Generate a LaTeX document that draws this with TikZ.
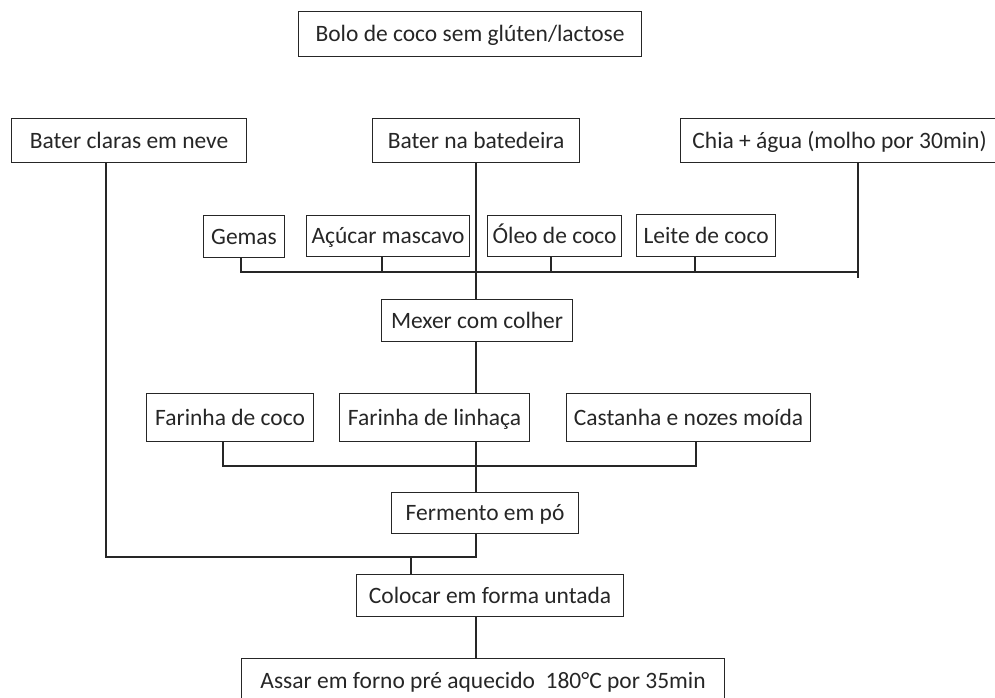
\documentclass[tikz,border=0pt]{standalone}
\usepackage{fontspec}
\setmainfont{Carlito}
\usepackage{tikz}

\begin{document}
\begin{tikzpicture}[x=0.025cm, y=-0.025cm, line width=0.8pt, color=black!85,
    every node/.style={draw, rectangle, anchor=north west, inner sep=0pt,
      text height=12pt, text depth=1.3pt, font=\fontsize{16.7}{20}\selectfont},
    caixa/.style 2 args={minimum width=#1*0.025cm, minimum height=#2*0.025cm}]
  \clip (0,0) rectangle (995,698);
  \node[caixa={343}{45}] (titulo) at (298,11) {Bolo de coco sem glúten/lactose};
  \node[caixa={235}{44}] (claras) at (11,118) {Bater claras em neve};
  \node[caixa={207}{44}] (batedeira) at (372,118) {Bater na batedeira};
  \node[caixa={318}{44}] (chia) at (680,118) {Chia + água (molho por 30min)};
  \node[caixa={81}{42}] (gemas) at (203,215) {Gemas};
  \node[caixa={163}{41}] (acucar) at (306,215) {Açúcar mascavo};
  \node[caixa={134}{41}] (oleo) at (487,215) {Óleo de coco};
  \node[caixa={139}{42}] (leite) at (636,214) {Leite de coco};
  \node[caixa={191}{42}] (mexer) at (381,299) {Mexer com colher};
  \node[caixa={167}{48}] (farcoco) at (146,393) {Farinha de coco};
  \node[caixa={190}{48}] (linhaca) at (339,393) {Farinha de linhaça};
  \node[caixa={244}{48}] (castanha) at (566,393) {Castanha e nozes moída};
  \node[caixa={187}{41}] (fermento) at (391,492) {Fermento em pó};
  \node[caixa={267}{42}] (colocar) at (356,574) {Colocar em forma untada};
  \node[caixa={483}{45}] (assar) at (241,658) {Assar em forno pré aquecido\ \ 180°C por 35min};

  % pontos de juncao
  \coordinate (eixo) at (476,0);
  \coordinate (pgemas) at (241,0);
  \coordinate (pacucar) at (382,0);
  \coordinate (poleo) at (551,0);
  \coordinate (pleite) at (695,0);
  \coordinate (pcoco) at (223,0);
  \coordinate (pcastanha) at (696,0);
  \coordinate (uniao1) at (858,272);
  \coordinate (fimchia) at (858,278);
  \coordinate (uniao2) at (0,466);
  \coordinate (uniao3) at (106,557);
  \coordinate (uniao4) at (411,557);

  % ingredientes da batedeira
  \draw (gemas.south -| pgemas) -- (uniao1 -| pgemas) -- (uniao1);
  \draw (acucar.south -| pacucar) -- (uniao1 -| pacucar);
  \draw (oleo.south -| poleo) -- (uniao1 -| poleo);
  \draw (leite.south -| pleite) -- (uniao1 -| pleite);
  \draw (chia.south -| fimchia) -- (fimchia);
  \draw (batedeira.south -| eixo) -- (mexer.north -| eixo);
  \draw (mexer.south -| eixo) -- (linhaca.north -| eixo);

  % farinhas
  \draw (farcoco.south -| pcoco) -- (uniao2 -| pcoco) -- (uniao2 -| pcastanha) -- (castanha.south -| pcastanha);
  \draw (linhaca.south -| eixo) -- (fermento.north -| eixo);

  % final
  \draw (claras.south -| uniao3) -- (uniao3) -| (fermento.south -| eixo);
  \draw (uniao4) -- (colocar.north -| uniao4);
  \draw (colocar.south -| eixo) -- (assar.north -| eixo);
\end{tikzpicture}
\end{document}
